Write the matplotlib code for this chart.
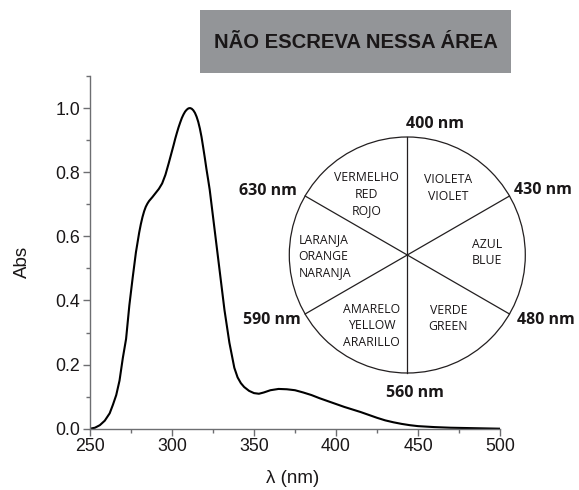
import numpy as np
import matplotlib
matplotlib.use("Agg")
import matplotlib.pyplot as plt
from matplotlib.patches import Circle, Rectangle

# ---- spectrum data ----
wavelength = [250, 253, 256, 259, 262, 264, 266, 268, 270, 272, 274, 276, 278, 280,
              281, 282, 283, 284, 285, 286, 288, 290, 292, 294, 296, 298,
              300, 301, 302, 303, 304, 305, 306, 307, 308, 309, 310, 311, 312, 313,
              314, 315, 316, 317, 318, 319, 320, 321, 322, 323, 326, 329, 332, 335,
              338, 340, 342, 344, 347, 350, 353, 356, 360, 365,
              370, 375, 380, 385, 390, 395, 400, 405, 410, 415, 420, 425, 430, 435,
              440, 445, 450, 460, 470, 480, 490, 500]
absorbance = [0.0, 0.003, 0.011, 0.025, 0.048, 0.075, 0.105, 0.15, 0.22, 0.28, 0.385,
              0.47, 0.55, 0.612, 0.638, 0.66, 0.678, 0.692, 0.702, 0.71, 0.722, 0.735,
              0.748, 0.765, 0.792, 0.828,
              0.866, 0.885, 0.905, 0.923, 0.94, 0.955, 0.969, 0.98, 0.989, 0.995,
              0.999, 1.0, 0.998, 0.993, 0.985, 0.973, 0.957, 0.936, 0.91, 0.878,
              0.845, 0.81, 0.778, 0.745, 0.62, 0.495, 0.37, 0.268,
              0.19, 0.16, 0.142, 0.13, 0.118, 0.111, 0.109, 0.113, 0.12, 0.124,
              0.123, 0.12, 0.113, 0.105, 0.095, 0.086, 0.077, 0.068, 0.06, 0.052,
              0.043, 0.034, 0.026, 0.02, 0.015, 0.011, 0.008, 0.005, 0.003, 0.002,
              0.001, 0.0]

x_ticks = [250, 300, 350, 400, 450, 500]
y_ticks = [0.0, 0.2, 0.4, 0.6, 0.8, 1.0]
x_label = "λ (nm)"
y_label = "Abs"
banner_text = "NÃO ESCREVA NESSA ÁREA"

# colour wheel texts
boundary_labels = ["400 nm", "430 nm", "480 nm", "560 nm", "590 nm", "630 nm"]
sector_labels = ["VIOLETA\nVIOLET", "AZUL\nBLUE", "VERDE\nGREEN",
                 "AMARELO\nYELLOW\nARARILLO", "LARANJA\nORANGE\nNARANJA",
                 "VERMELHO\nRED\nROJO"]

W, H = 579, 490
fig = plt.figure(figsize=(W / 100, H / 100), dpi=100)

txt_col = "#1a1718"
spine_col = "#6d6e71"

# ---- main axes ----
ax = fig.add_axes([90 / W, (H - 428.7) / H, 410 / W, 352.7 / H])
ax.plot(wavelength, absorbance, color="black", lw=1.5, solid_joinstyle="round")
ax.set_xlim(250, 500)
ax.set_ylim(0, 1.1)
ax.set_xticks(x_ticks)
ax.set_yticks(y_ticks)
ax.set_xticks([275, 325, 375, 425, 475], minor=True)
ax.set_yticks([0.1, 0.3, 0.5, 0.7, 0.9, 1.1], minor=True)
ax.set_xticklabels([str(v) for v in x_ticks])
ax.set_yticklabels([f"{v:.1f}" for v in y_ticks])
for s in ["top", "right"]:
    ax.spines[s].set_visible(False)
for s in ["left", "bottom"]:
    ax.spines[s].set_color(spine_col)
    ax.spines[s].set_linewidth(1.0)
ax.tick_params(which="major", direction="out", length=5, width=1.0, color=spine_col,
               labelsize=12.8, labelcolor=txt_col, pad=2)
ax.tick_params(which="minor", direction="out", length=3, width=1.0, color=spine_col)
for lab in ax.get_xticklabels() + ax.get_yticklabels():
    lab.set_fontfamily("Liberation Sans")
ax.patch.set_alpha(0)

# ---- overlay in pixel coordinates ----
ov = fig.add_axes([0, 0, 1, 1])
ov.set_xlim(0, W)
ov.set_ylim(H, 0)
ov.axis("off")
ov.patch.set_alpha(0)

ov.text(22, 262, y_label, rotation=90, ha="center", va="center", fontsize=13.5,
        family="Liberation Sans", color=txt_col)
ov.text(293, 478, x_label, ha="center", va="center", fontsize=13.5,
        family="Liberation Sans", color=txt_col)

# banner
ov.add_patch(Rectangle((200, 10), 311, 63, facecolor="#939598", edgecolor="none"))
ov.text(355.5, 42, banner_text, ha="center", va="center", fontsize=14.6,
        fontweight="bold", family="Liberation Sans", color=txt_col)

# colour wheel
cx, cy, r = 407.3, 255, 118
ov.add_patch(Circle((cx, cy), r, facecolor="white", edgecolor="#231f20", lw=0.9))
for ang in [90, 30, -30]:
    a = np.deg2rad(ang)
    ov.plot([cx - r * np.cos(a), cx + r * np.cos(a)],
            [cy + r * np.sin(a), cy - r * np.sin(a)], color="#231f20", lw=0.9)

b_pos = [(435, 123.5), (543, 190), (546, 320), (415, 393), (272, 320), (268, 190.5)]
for lab, (px, py) in zip(boundary_labels, b_pos):
    ov.text(px, py, lab, ha="center", va="center", fontsize=11.5, fontweight="bold",
            family="Open Sans", color=txt_col)

s_pos = [(448.3, 188, "center"), (486.7, 252.5, "center"), (448.3, 318.5, "center"),
         (371.7, 325.5, "center"), (298.3, 256.5, "left"), (366.7, 194, "center")]
for lab, (px, py, ha) in zip(sector_labels, s_pos):
    ov.text(px, py, lab, ha=ha, va="center", fontsize=8.8, family="Open Sans",
            color=txt_col, linespacing=1.35, multialignment=ha)

fig.savefig("out.png", dpi=100)
